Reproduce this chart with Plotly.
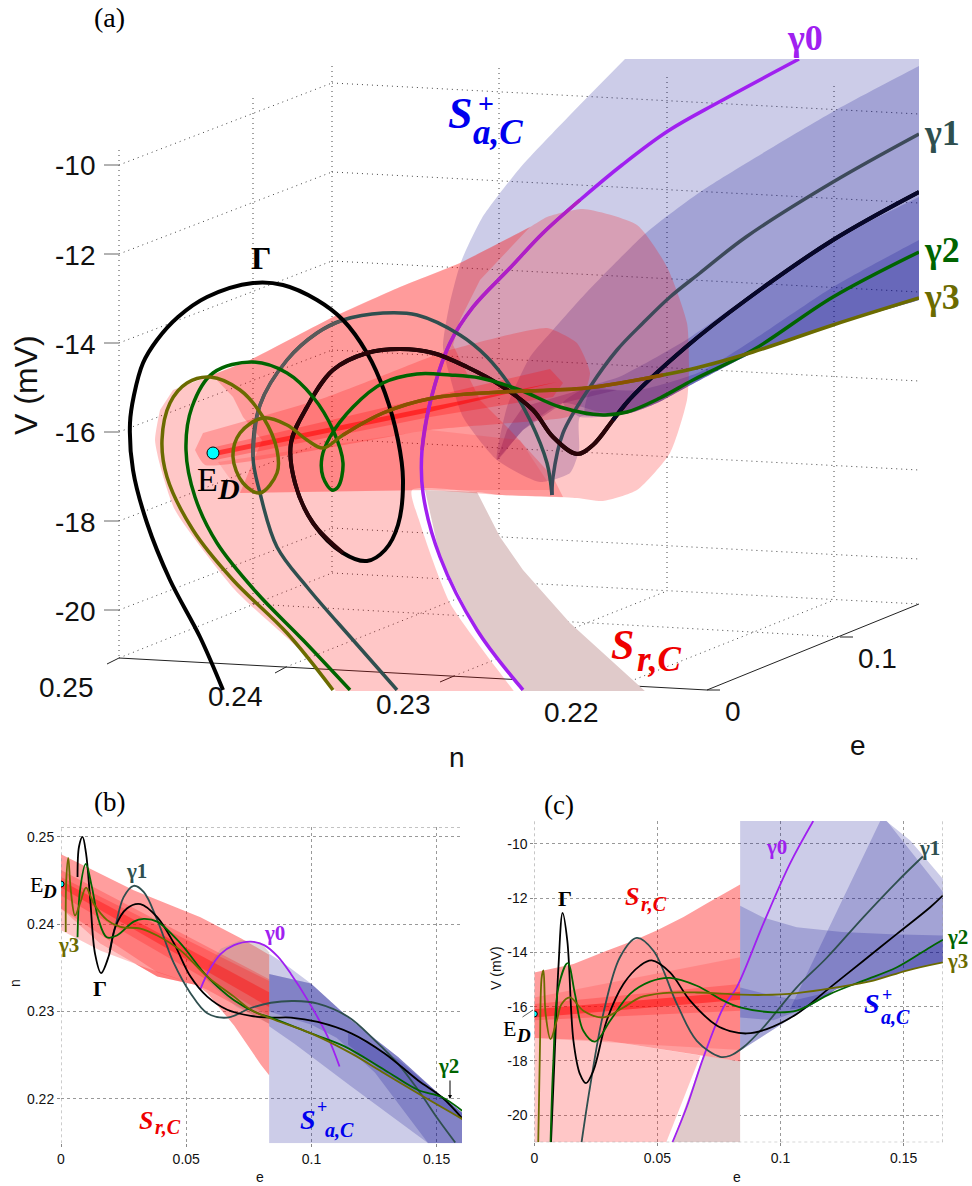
import plotly.graph_objects as go

W, H = 972, 1186
# ---------- panel (a): projected view, values in picture-plane units
A_GAMMA = [(223,690),(200,637),(170,580),(147,523),(133,470),(130,423),(134,395),(143,363),(157,340),(178,317),(207,297),(253,283),(283,285),(317,300),(343,320),(367,353),(385,393),(398,440),(403,480),(398,525),(385,550),(367,561),(343,553),(313,523),(295,483),(291,443),(307,407),(333,370),(367,353),(400,349),(433,353),(467,367),(500,385),(533,410),(553,437),(577,454),(593,445),(613,420),(629,400),(686,347),(746,300),(833,240),(919,192)]
A_GAMMA_IN = [(343,553),(313,523),(295,483),(291,443),(307,407),(333,370),(367,353),(400,349),(433,353),(467,367),(500,385),(533,410),(553,437),(577,454),(593,445),(613,420),(629,400)]
A_GAMMA_END = [(613,420),(629,400),(686,347),(746,300),(833,240),(919,192)]
A_G1 = [(397,690),(353,640),(307,587),(277,547),(260,493),(253,457),(260,405),(287,360),(317,333),(343,320),(383,313),(417,315),(460,335),(487,357),(513,390),(530,420),(547,463),(552,495)]
A_G1_MID = [(253,457),(260,405),(287,360),(317,333),(343,320)]
A_G1_UP = [(552,495),(553,477),(563,433),(590,387),(617,350),(643,323),(670,297),(700,273),(746,237),(833,182),(919,134)]
A_G2 = [(350,690),(303,640),(257,593),(217,543),(195,497),(186,450),(192,407),(213,373),(253,362),(287,373),(313,397),(333,430),(343,463),(338,487),(332,490),(323,477),(322,457),(330,437),(353,407),(383,383),(417,374),(450,375),(480,378),(520,390),(560,407),(603,415),(627,412),(660,398),(693,380),(753,350),(833,297),(919,252)]
A_G3 = [(333,690),(287,633),(233,580),(193,530),(167,477),(162,440),(170,403),(187,383),(210,377),(240,390),(263,417),(277,450),(277,473),(260,493),(243,483),(233,457),(240,433),(263,418),(287,425),(307,440),(323,448),(343,435),(383,413),(433,398),(500,392),(586,388),(663,375),(700,367),(753,352),(833,325),(919,298)]
A_G3_MID = [(343,435),(383,413),(433,398),(500,392),(586,388),(663,375)]
A_G0 = [(523,690),(477,630),(440,557),(423,493),(422,450),(430,403),(450,343),(473,307),(510,268),(543,233),(580,200),(622,165),(668,131),(719,102),(799,59)]
A_G0_MID = [(422,450),(430,403),(450,343),(473,307),(510,268),(543,233),(580,200)]
A_ED = (213,453)
A_BROWN = [(425,490),(440,557),(477,630),(530,702),(657,702),(570,623),(523,570),(500,537),(477,492)]
A_PALE = [(173,390),(212,375),(250,360),(333,317),(400,287),(460,263),(530,227),(547,217),(583,209),(637,225),(667,267),(687,323),(689,367),(687,400),(670,453),(637,490),(603,501),(577,498),(500,495),(477,492),(412,490),(420,523),(450,603),(513,690),(522,702),(345,702),(335,690),(300,650),(235,590),(175,510),(160,465),(155,440),(160,410)]
A_R2 = [(212,375),(250,360),(333,317),(400,287),(460,263),(530,227),(480,280),(460,320),(453,345),(480,400),(510,430),(553,477),(563,497),(500,495),(430,490),(240,493),(262,440),(243,417),(233,397)]
A_R3A = [(218,462),(240,493),(430,490),(553,490),(520,440),(430,430)]
A_R3 = [(203,433),(327,397),(430,357),(450,350),(547,328),(577,343),(590,373),(577,413),(563,418),(430,430),(205,465),(195,450)]
A_R4 = [(215,447),(430,397),(550,369),(563,383),(553,397),(430,417),(215,460)]
A_R5 = [(215,451),(430,407),(557,382),(430,412),(215,456)]
A_B1 = [(660,25),(960,25),(960,285),(919,300),(833,325),(753,353),(687,387),(657,403),(630,413),(607,417),(580,417),(579,450),(570,473),(540,482),(497,460),(463,417),(450,377),(443,347),(449,307),(461,262),(482,218),(520,168),(570,115),(625,59)]
A_B2 = [(960,45),(919,66),(836,110),(703,190),(646,233),(586,293),(553,330),(530,357),(507,407),(497,460),(523,430),(563,403),(600,412),(630,413),(657,403),(687,387),(753,353),(833,325),(919,300),(960,285)]
A_B3 = [(960,176),(919,197),(833,240),(753,293),(686,340),(619,377),(587,387),(563,403),(580,417),(630,413),(657,403),(687,387),(753,353),(833,325),(919,300),(960,285)]
A_B4 = [(960,219),(919,240),(833,287),(753,340),(700,372),(640,390),(590,392),(585,415),(630,413),(657,403),(687,387),(753,353),(833,325),(919,300),(960,285)]
A_B5 = [(497,460),(507,430),(523,407),(590,387),(617,390),(563,403),(523,430)]
A_WALL_LEFT = (119,165); A_WALL_CORNER = (332,83); A_WALL_RIGHT = (919,114)
A_V_STEP = 89
A_V_TICKS = ["-10","-12","-14","-16","-18","-20"]
A_VERT = [(119,150,658),(253,98,604),(332,66,573),(499,68,582),(667,77,591),(834,86,600)]
A_FLOOR = [((119,658),(332,573)),((286,667),(499,582)),((454,676),(667,591)),((621,685),(834,600)),((253,604),(841,637)),((332,573),(919,604))]
A_AXIS = [((119,658),(707,690)),((707,690),(919,604)),((119,658),(107,664)),((286,667),(275,673)),((454,676),(440,682)),((621,685),(608,691)),((707,690),(720,690)),((840,637),(853,637))]

# ---------- panel (b): e vs n
B_GAMMA = [(.0066,.2454),(.0072,.2489),(.0086,.25),(.0100,.2481),(.0116,.2431),(.0136,.2366),(.0160,.2344),(.019,.2363),(.0217,.2397),(.0263,.2418),(.0317,.2423),(.0384,.2408),(.0451,.2378),(.0517,.2340),(.0584,.2317),(.0664,.2302),(.0758,.2295),(.0838,.2293),(.0918,.2293),(.1025,.2288),(.1159,.2275),(.1292,.2252),(.1426,.2221),(.1520,.2202),(.1607,.2176)]
B_G1 = [(.0194,.2370),(.0217,.2397),(.025,.2431),(.029,.2444),(.033,.2437),(.0384,.2405),(.0451,.2355),(.0517,.2321),(.0584,.2298),(.0664,.2293),(.0758,.2304),(.0838,.2310),(.0932,.2312),(.1025,.2309),(.1146,.2294),(.1253,.2267),(.1346,.2240),(.1426,.2210),(.1507,.2176),(.1574,.2150)]
B_G2 = [(.0066,.2385),(.0076,.2439),(.0099,.2469),(.0123,.2443),(.0150,.2405),(.0183,.2385),(.0223,.2387),(.029,.2403),(.033,.2406),(.0384,.2403),(.0477,.2378),(.0584,.2340),(.0691,.2313),(.0785,.2298),(.0838,.2293),(.0998,.2275),(.1132,.2260),(.1292,.2233),(.1426,.2210),(.1520,.2202),(.1607,.2185)]
B_G3 = [(.0019,.2391),(.0021,.2450),(.0029,.2476),(.0039,.2439),(.0056,.2410),(.0076,.2424),(.0100,.2442),(.0130,.2424),(.0183,.2405),(.0237,.2397),(.0317,.2395),(.0384,.2387),(.0477,.2370),(.0584,.2340),(.0691,.2317),(.0758,.2302),(.0838,.2292),(.0998,.2275),(.1159,.2252),(.1292,.2229),(.1426,.2206),(.1607,.2176)]
B_G0 = [(.0557,.2326),(.0591,.2347),(.0638,.2366),(.0691,.2376),(.0758,.2380),(.0811,.2376),(.0865,.2363),(.0918,.2343),(.0985,.2313),(.1065,.2271),(.1112,.2237)]
B_ED = (0,.2446)
B_R1 = [(0,.2418),(0,.2393),(.0156,.2370),(.033,.2351),(.0544,.2330),(.0384,.2340),(.0156,.2378)]
B_R2 = [(0,.248),(.029,.2439),(.0557,.2408),(.0718,.2384),(.0831,.2365),(.0831,.2227),(.0798,.2239),(.0691,.2284),(.0584,.2321),(.0544,.2330),(.0384,.2340),(.0156,.2378),(0,.2418)]
B_R3 = [(0,.2462),(.0811,.2340),(.0831,.2337),(.0831,.2286),(.0584,.2325),(.0544,.2330),(.0384,.2345),(0,.2418)]
B_R4 = [(0,.2454),(.0831,.2335),(.0831,.2295),(0,.2433)]
B_R5 = [(0,.2450),(.0831,.2322),(.0831,.2305),(0,.2442)]
B_DISC = [(.0585,.2335),(.0591,.2353),(.0638,.2372),(.0718,.2382),(.0798,.2379),(.0831,.2368),(.0831,.2286),(.0700,.2305)]
B_B1 = [(.0831,.2149),(.0831,.2366),(.0891,.2355),(.0998,.2332),(.1159,.2290),(.1346,.2248),(.1507,.2206),(.1607,.2183),(.1607,.2149)]
B_B2 = [(.0831,.2343),(.0998,.2332),(.1159,.2290),(.1346,.2248),(.1507,.2206),(.1607,.2183),(.1607,.2149),(.1466,.2149),(.1159,.2214),(.0932,.2263),(.0831,.2283)]
B_B3 = [(.0831,.2343),(.0998,.2332),(.1159,.2290),(.1346,.2248),(.1507,.2206),(.1607,.2183),(.1607,.2149),(.1466,.2149),(.1253,.2230),(.1100,.2270),(.0998,.2285),(.0831,.2300)]
B_B4 = [(.1146,.2275),(.1346,.2245),(.1507,.2206),(.1607,.2183),(.1607,.2176),(.1426,.2206),(.1292,.2229),(.1146,.2262)]

# ---------- panel (c): e vs V
C_GAMMA = [(.0068,-21),(.0084,-17.5),(.0098,-14.55),(.0115,-12.55),(.0134,-13.57),(.0159,-17.26),(.0186,-18.5),(.0210,-18.82),(.024,-18.36),(.0294,-16.52),(.0362,-15.17),(.043,-14.49),(.0477,-14.3),(.0551,-14.74),(.0633,-15.78),(.0741,-16.7),(.0795,-16.9),(.0863,-16.99),(.0944,-16.83),(.1066,-16.27),(.1202,-15.29),(.1337,-14.31),(.1473,-13.32),(.1608,-12.34),(.166,-11.9)]
C_G1 = [(.0192,-21),(.0226,-18.98),(.028,-16.27),(.0348,-14.18),(.0416,-13.47),(.0484,-13.94),(.0579,-15.9),(.066,-17.26),(.0755,-17.85),(.0795,-17.81),(.0849,-17.5),(.093,-16.77),(.1066,-15.29),(.1188,-14.2),(.1337,-12.7),(.1473,-11.4),(.1578,-10.47)]
C_G2 = [(.0066,-21),(.0077,-18.1),(.0098,-15.29),(.0136,-14.4),(.0165,-15.53),(.0199,-16.89),(.0247,-17.29),(.0308,-16.52),(.0389,-15.53),(.047,-15.08),(.0551,-14.94),(.066,-15.23),(.0768,-15.78),(.0836,-16.03),(.0971,-16.21),(.1066,-16.15),(.1202,-15.53),(.1337,-15.04),(.1473,-14.55),(.1608,-13.81),(.166,-13.54)]
C_G3 = [(.0016,-21),(.0023,-17.5),(.003,-14.92),(.0037,-14.67),(.0046,-16.27),(.0066,-17.2),(.0091,-16.52),(.0111,-15.9),(.0145,-15.66),(.0199,-16.15),(.028,-16.4),(.0362,-16.03),(.043,-15.66),(.0524,-15.5),(.066,-15.48),(.0836,-15.56),(.093,-15.57),(.1066,-15.5),(.1228,-15.29),(.1377,-15.04),(.1513,-14.67),(.166,-14.37)]
C_G0 = [(.0561,-21),(.0619,-19.7),(.0687,-17.87),(.0768,-16.03),(.0822,-15.29),(.093,-12.95),(.1038,-10.74),(.1133,-9.16)]
C_ED = (0,-16.27)
C_BROWN = [(.0562,-21),(.0836,-21),(.0836,-18.02),(.0687,-17.81)]
C_PALE = [(0,-21),(.0536,-21),(.0675,-17.8),(.0551,-17.63),(.0294,-17.26),(0,-17.16)]
C_R2 = [(0,-14.74),(.0159,-14.43),(.0294,-13.94),(.0402,-13.57),(.0497,-13.2),(.0606,-12.7),(.07,-12.2),(.0836,-11.5),(.0836,-18.02),(.0551,-17.63),(.0294,-17.26),(0,-17.16)]
C_R3 = [(0,-15.66),(.0633,-14.55),(.0836,-14.18),(.0836,-17.6),(0,-17.16)]
C_R4 = [(0,-15.9),(.0836,-15.17),(.0836,-16.15),(0,-16.5)]
C_R5 = [(0,-16.1),(.0836,-15.45),(.0836,-15.75),(0,-16.4)]
C_B1 = [(.0836,-9.16),(.1429,-9.16),(.1527,-9.88),(.1608,-10.74),(.166,-11.3),(.166,-14.37),(.1513,-14.67),(.1377,-15.04),(.1228,-15.35),(.1111,-16.03),(.0962,-16.9),(.0836,-17.63)]
C_L1 = [(.0836,-12.28),(.093,-12.72),(.1066,-13.08),(.125,-13.25),(.145,-13.33),(.166,-13.38),(.166,-14.37),(.1513,-14.67),(.1377,-15.04),(.1228,-15.35),(.1111,-16.03),(.0962,-16.9),(.0836,-17.63)]
C_L2 = [(.1405,-9.16),(.1432,-9.16),(.166,-11.78),(.166,-14.37),(.1513,-14.67),(.1377,-15.04),(.1228,-15.35),(.1111,-16.03),(.1038,-16.1)]
C_L3 = [(.0836,-15.3),(.0971,-15.6),(.1066,-15.75),(.1202,-15.45),(.1337,-15.04),(.1473,-14.55),(.1608,-13.81),(.166,-13.54),(.166,-14.37),(.1513,-14.67),(.1377,-15.04),(.1228,-15.35),(.1111,-16.03),(.0971,-16.5),(.0836,-16.4)]

BLACK, SLATE, GREEN, OLIVE, PURPLE = "#000000", "#2f4f4f", "#006400", "#6b6b00", "#a020f0"
RED_A, BLUE_A = "rgba(255,0,0,0.22)", "rgba(0,0,140,0.2)"
SANS, SERIF = "Liberation Sans", "Liberation Serif"

fig = go.Figure()

def poly(pts, color, ax, smooth=None):
    line = dict(width=0)
    if smooth:
        line.update(shape="spline", smoothing=smooth)
    fig.add_trace(go.Scatter(x=[p[0] for p in pts], y=[p[1] for p in pts], mode="lines", fill="toself",
                             fillcolor=color, line=line, hoverinfo="skip", xaxis=ax[0], yaxis=ax[1]))

def curve(pts, color, width, ax):
    fig.add_trace(go.Scatter(x=[p[0] for p in pts], y=[p[1] for p in pts], mode="lines",
                             line=dict(color=color, width=width, shape="spline", smoothing=1.0),
                             hoverinfo="skip", xaxis=ax[0], yaxis=ax[1]))

def seg(p, q, color, width, dash, ax):
    fig.add_trace(go.Scatter(x=[p[0], q[0]], y=[p[1], q[1]], mode="lines",
                             line=dict(color=color, width=width, dash=dash), hoverinfo="skip", xaxis=ax[0], yaxis=ax[1]))

def dot(pt, size, ax):
    fig.add_trace(go.Scatter(x=[pt[0]], y=[pt[1]], mode="markers", hoverinfo="skip",
                             marker=dict(color="#00ffff", size=size, line=dict(color="#000", width=1)), xaxis=ax[0], yaxis=ax[1]))

AX_A, AX_B, AX_C = ("x", "y"), ("x2", "y2"), ("x3", "y3")
DOT = "1px,4px"

# panel (a) grid
for x, y0, y1 in A_VERT:
    seg((x, y0), (x, y1), "#444", 1, DOT, AX_A)
for k in range(len(A_V_TICKS)):
    d = A_V_STEP * k
    l, c, r = A_WALL_LEFT, A_WALL_CORNER, A_WALL_RIGHT
    seg((l[0], l[1]+d), (c[0], c[1]+d), "#444", 1, DOT, AX_A)
    seg((c[0], c[1]+d), (r[0], r[1]+d), "#444", 1, DOT, AX_A)
    seg((104, l[1]+d), (119, l[1]+d), "#666", 1, "solid", AX_A)
for p, q in A_FLOOR:
    seg(p, q, "#444", 1, DOT, AX_A)
for p, q in A_AXIS:
    seg(p, q, "#222", 1, "solid", AX_A)

# panel (a) surfaces
poly(A_BROWN, "#e0caca", AX_A)
for pts in (A_B1, A_B2, A_B3, A_B4):
    poly(pts, BLUE_A, AX_A, 0.6)
poly(A_B5, "rgba(60,30,140,0.3)", AX_A)
poly(A_PALE, RED_A, AX_A, 0.6)
poly(A_R2, RED_A, AX_A)
poly(A_R3A, "rgba(255,0,0,0.12)", AX_A)
poly(A_R3, RED_A, AX_A, 0.5)
poly(A_R4, "rgba(255,0,0,0.25)", AX_A)
poly(A_R5, "rgba(255,0,0,0.55)", AX_A)

# panel (a) curves
curve(A_G0, PURPLE, 3.5, AX_A)
curve(A_G0_MID, "#b01fc4", 3.5, AX_A)
curve(A_G1, SLATE, 3.5, AX_A)
curve(A_G1_MID, "#5a5a5a", 3.5, AX_A)
curve(A_G1_UP, "#3d4a5a", 3.5, AX_A)
curve(A_GAMMA, BLACK, 4, AX_A)
curve(A_GAMMA_IN, "#2a0408", 4, AX_A)
curve(A_GAMMA_END, "#07072a", 4, AX_A)
curve(A_G2, GREEN, 3.5, AX_A)
curve(A_G3, OLIVE, 3.5, AX_A)
curve(A_G3_MID, "#8a5200", 3.5, AX_A)
dot(A_ED, 12, AX_A)

# panel (b)
for pts, col in ((B_B1, BLUE_A), (B_B2, BLUE_A), (B_B3, BLUE_A), (B_B4, BLUE_A), (B_R1, RED_A), (B_R2, "rgba(255,0,0,0.38)"),
                 (B_DISC, "rgba(170,150,150,0.4)"), (B_R3, RED_A), (B_R4, RED_A), (B_R5, "rgba(255,0,0,0.35)")):
    poly(pts, col, AX_B)
for pts, col in ((B_G0, PURPLE), (B_G1, SLATE), (B_GAMMA, BLACK), (B_G2, GREEN), (B_G3, OLIVE)):
    curve(pts, col, 1.8, AX_B)
dot(B_ED, 6, AX_B)

# panel (c)
for pts, col in ((C_BROWN, "#e0caca"), (C_PALE, RED_A), (C_R2, "rgba(255,0,0,0.38)"), (C_R3, "rgba(255,0,0,0.15)"), (C_R4, RED_A), (C_R5, "rgba(255,0,0,0.45)"),
                 (C_B1, BLUE_A), (C_L1, BLUE_A), (C_L2, BLUE_A), (C_L3, BLUE_A)):
    poly(pts, col, AX_C)
for pts, col in ((C_G0, PURPLE), (C_G1, SLATE), (C_GAMMA, BLACK), (C_G2, GREEN), (C_G3, OLIVE)):
    curve(pts, col, 1.8, AX_C)
dot(C_ED, 6, AX_C)

def dom_x(a, b): return [a / W, b / W]
def dom_y(a, b): return [1 - b / H, 1 - a / H]

hidden = dict(visible=False, showgrid=False, zeroline=False)
def small_axis(**kw):
    return dict(showgrid=True, gridcolor="#999", griddash="dot", gridwidth=1, zeroline=False, showline=False,
                ticks="outside", ticklen=3, tickcolor="#888",
                tickfont=dict(family=SANS, size=14, color="#111"), **kw)

fig.update_layout(
    width=W, height=H, autosize=False, margin=dict(l=0, r=0, t=0, b=0, autoexpand=False), showlegend=False,
    paper_bgcolor="white", plot_bgcolor="rgba(0,0,0,0)",
    xaxis=dict(domain=dom_x(0, 919), range=[0, 919], **hidden),
    yaxis=dict(domain=dom_y(59, 691), range=[691, 59], **hidden),
    xaxis2=small_axis(domain=dom_x(61, 462), range=[0, .1601], tickvals=[0, .05, .1, .15], ticktext=["0", "0.05", "0.1", "0.15"], anchor="y2"),
    yaxis2=small_axis(domain=dom_y(827.3, 1143.3), range=[.2149, .2511], tickvals=[.22, .23, .24, .25], ticktext=["0.22", "0.23", "0.24", "0.25"], anchor="x2"),
    xaxis3=small_axis(domain=dom_x(534.3, 943), range=[0, .166], tickvals=[0, .05, .1, .15], ticktext=["0", "0.05", "0.1", "0.15"], anchor="y3"),
    yaxis3=small_axis(domain=dom_y(820.7, 1142.3), range=[-21, -9.15], tickvals=[-20, -18, -16, -14, -12, -10], ticktext=["-20", "-18", "-16", "-14", "-12", "-10"], anchor="x3"),
)

# frame dotted edges of (b) and (c)
frame = dict(color="#999", width=1, dash="dot")
fig.add_shape(type="line", xref="x2", yref="y2", x0=0, x1=.1601, y0=.2511, y1=.2511, line=frame)
fig.add_shape(type="line", xref="x2", yref="y2", x0=0, x1=0, y0=.2149, y1=.2511, line=frame)
fig.add_shape(type="line", xref="x3", yref="y3", x0=0, x1=0, y0=-21, y1=-9.15, line=frame)
fig.add_shape(type="line", xref="x3", yref="y3", x0=.166, x1=.166, y0=-21, y1=-9.15, line=frame)
fig.add_shape(type="line", xref="x3", yref="y3", x0=0, x1=.166, y0=-21, y1=-21, line=frame)

def txt(s, x, y, size, color="#000", family=SERIF, angle=0):
    fig.add_annotation(text=s, x=x / W, y=1 - y / H, xref="paper", yref="paper", showarrow=False, xanchor="center", yanchor="middle",
                       font=dict(family=family, size=size, color=color), textangle=angle, borderpad=0)

# (a) texts
txt("(a)", 109, 18, 28)
for i, lab in enumerate(A_V_TICKS):
    txt(lab, 75, 166 + A_V_STEP * i, 28, "#111", SANS)
txt("V (mV)", 26, 385, 32, "#111", SANS, -90)
for s, x, y in (("0.25", 66, 687), ("0.24", 235, 696), ("0.23", 403, 704), ("0.22", 571, 712), ("0", 733, 711), ("0.1", 877, 658), ("n", 457, 757), ("e", 858, 745)):
    txt(s, x, y, 28, "#111", SANS)
txt("<b>Γ</b>", 261, 258, 32)
txt("<b>γ0</b>", 805, 38, 36, PURPLE)
txt("<b>γ1</b>", 942, 133, 36, SLATE)
txt("<b>γ2</b>", 942, 250, 36, GREEN)
txt("<b>γ3</b>", 942, 297, 36, OLIVE)
txt("<b><i>S</i></b>", 460, 114, 44, "#0000ee")
txt("<b>+</b>", 486, 103, 28, "#0000ee")
txt("<b><i>a,C</i></b>", 498, 132, 35, "#0000ee")
txt("<b><i>S</i></b>", 622, 645, 42, "#ee0000")
txt("<b><i>r,C</i></b>", 659, 659, 35, "#ee0000")
txt("E", 207, 479, 34)
txt("<b><i>D</i></b>", 228, 488, 30)

# (b) texts
txt("(b)", 109, 802, 27)
txt("E", 36, 884, 22); txt("<b><i>D</i></b>", 49, 891, 19)
txt("<b>γ1</b>", 136, 871, 21, SLATE)
txt("<b>γ3</b>", 68, 945, 21, OLIVE)
txt("<b>Γ</b>", 100, 988, 22)
txt("<b>γ0</b>", 274, 933, 21, PURPLE)
txt("<b>γ2</b>", 448, 1066, 21, GREEN)
txt("<b><i>S</i></b>", 146, 1120, 26, "#ee0000"); txt("<b><i>r,C</i></b>", 168, 1127, 20, "#ee0000")
txt("<b><i>S</i></b>", 308, 1119, 28, "#0000ee"); txt("<b>+</b>", 322, 1107, 18, "#0000ee"); txt("<b><i>a,C</i></b>", 339, 1130, 20, "#0000ee")
txt("n", 15, 983, 14, "#111", SANS, -90)
txt("e", 260, 1177, 14, "#111", SANS)
fig.add_annotation(x=450 / W, y=1 - 1099 / H, ax=0, ay=-20, xref="paper", yref="paper", axref="pixel", ayref="pixel",
                   text="", showarrow=True, arrowhead=2, arrowsize=0.8, arrowwidth=1, arrowcolor="#000")

# (c) texts
txt("(c)", 559, 805, 27)
txt("<b>Γ</b>", 565, 898, 22)
txt("<b><i>S</i></b>", 632, 897, 26, "#ee0000"); txt("<b><i>r,C</i></b>", 654, 904, 20, "#ee0000")
txt("<b>γ0</b>", 776, 847, 21, PURPLE)
txt("<b>γ1</b>", 929, 848, 21, SLATE)
txt("<b>γ2</b>", 957, 937, 21, GREEN)
txt("<b>γ3</b>", 957, 961, 21, OLIVE)
txt("<b><i>S</i></b>", 872, 1003, 28, "#0000ee"); txt("<b>+</b>", 887, 995, 18, "#0000ee"); txt("<b><i>a,C</i></b>", 895, 1017, 20, "#0000ee")
txt("E", 509, 1028, 22); txt("<b><i>D</i></b>", 523, 1035, 19)
txt("V (mV)", 496, 968, 14, "#111", SANS, -90)
txt("e", 737, 1177, 14, "#111", SANS)
fig.add_annotation(x=533 / W, y=1 - 1010 / H, ax=-12, ay=8, xref="paper", yref="paper", axref="pixel", ayref="pixel",
                   text="", showarrow=True, arrowhead=0, arrowwidth=0.8, arrowcolor="#333")

fig.write_html("out.html", config=dict(displayModeBar=False),
               post_script="document.body.style.margin='0';document.documentElement.style.overflow='hidden';")
